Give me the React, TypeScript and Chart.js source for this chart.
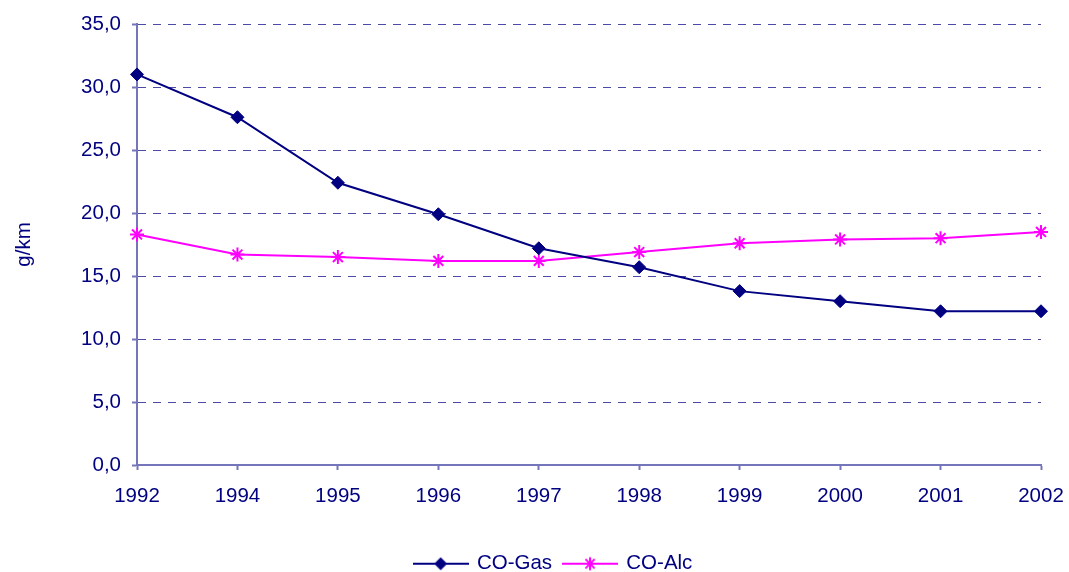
import React, { useEffect, useRef } from "react";
import { Chart, registerables } from "chart.js";

Chart.register(...registerables);

const years = ["1992", "1994", "1995", "1996", "1997", "1998", "1999", "2000", "2001", "2002"];
const coGas = [31.0, 27.6, 22.4, 19.9, 17.2, 15.7, 13.8, 13.0, 12.2, 12.2];
const coAlc = [18.3, 16.7, 16.5, 16.2, 16.2, 16.9, 17.6, 17.9, 18.0, 18.5];
const yTicks = [0, 5, 10, 15, 20, 25, 30, 35];

const NAVY = "#000080";
const MAGENTA = "#FF00FF";
const AXIS = "#7575bb";
const GRID = "#4b4ba5";
const FONT = "'Liberation Sans', Arial, sans-serif";

function makeLegendIcon(color: string, kind: "diamond" | "star"): HTMLCanvasElement {
  const c = document.createElement("canvas");
  c.width = 56;
  c.height = 16;
  const ctx = c.getContext("2d")!;
  ctx.strokeStyle = color;
  ctx.fillStyle = color;
  ctx.lineWidth = 2;
  ctx.beginPath();
  ctx.moveTo(0, 8);
  ctx.lineTo(56, 8);
  ctx.stroke();
  const cx = 28, cy = 8;
  if (kind === "diamond") {
    ctx.beginPath();
    ctx.moveTo(cx, cy - 6.5);
    ctx.lineTo(cx + 6.5, cy);
    ctx.lineTo(cx, cy + 6.5);
    ctx.lineTo(cx - 6.5, cy);
    ctx.closePath();
    ctx.fill();
  } else {
    ctx.lineWidth = 2;
    const r = 6.5;
    ctx.beginPath();
    ctx.moveTo(cx, cy - r);
    ctx.lineTo(cx, cy + r);
    const d = r * Math.SQRT1_2;
    ctx.moveTo(cx - d, cy - d);
    ctx.lineTo(cx + d, cy + d);
    ctx.moveTo(cx - d, cy + d);
    ctx.lineTo(cx + d, cy - d);
    ctx.stroke();
  }
  return c;
}

export default function App() {
  const ref = useRef<HTMLCanvasElement | null>(null);

  useEffect(() => {
    if (!ref.current) return;
    const icons = [makeLegendIcon(NAVY, "diamond"), makeLegendIcon(MAGENTA, "star")];
    const chart = new Chart(ref.current, {
      type: "line",
      data: {
        labels: years,
        datasets: [
          {
            label: "CO-Gas",
            data: coGas,
            borderColor: NAVY,
            backgroundColor: NAVY,
            borderWidth: 2,
            pointStyle: "rectRot",
            pointRadius: 6.5,
            pointBorderWidth: 1,
            pointBackgroundColor: NAVY,
            pointBorderColor: NAVY,
            tension: 0,
          },
          {
            label: "CO-Alc",
            data: coAlc,
            borderColor: MAGENTA,
            backgroundColor: MAGENTA,
            borderWidth: 2,
            pointStyle: "star",
            pointRadius: 7,
            pointBorderWidth: 2,
            pointBorderColor: MAGENTA,
            tension: 0,
          },
        ],
      },
      options: {
        animation: false,
        responsive: false,
        layout: { padding: { top: 24, right: 28, left: 66, bottom: 2 } },
        plugins: {
          tooltip: { enabled: false },
          legend: {
            position: "bottom",
            labels: {
              usePointStyle: true,
              pointStyleWidth: 52,
              padding: 12,
              color: NAVY,
              font: { family: FONT, size: 20.5 },
              generateLabels: (ch: any) =>
                ch.data.datasets.map((ds: any, i: number) => ({
                  text: ds.label,
                  pointStyle: icons[i],
                  fillStyle: ds.borderColor,
                  strokeStyle: ds.borderColor,
                  lineWidth: 0,
                  hidden: false,
                  datasetIndex: i,
                  fontColor: NAVY,
                })),
            },
          },
        },
        scales: {
          x: {
            offset: false,
            afterFit: (s: any) => {
              s.height = 76.5;
              s.paddingLeft = 0;
              s.paddingRight = 0;
            },
            grid: {
              drawOnChartArea: false,
              drawTicks: true,
              tickLength: 5,
              tickColor: AXIS,
              tickWidth: 2,
            },
            border: { color: AXIS, width: 2 },
            ticks: {
              color: NAVY,
              font: { family: FONT, size: 20.5 },
              padding: 14,
              maxRotation: 0,
              autoSkip: false,
            },
          },
          y: {
            min: 0,
            max: 35,
            afterFit: (s: any) => {
              s.width = 71;
            },
            afterBuildTicks: (s: any) => {
              s.ticks = yTicks.map((v) => ({ value: v }));
            },
            grid: {
              color: GRID,
              lineWidth: 1,
              tickLength: 5,
              tickColor: AXIS,
              tickWidth: 2,
            },
            border: { color: AXIS, width: 2, dash: [8, 7] },
            ticks: {
              color: NAVY,
              font: { family: FONT, size: 20.5 },
              padding: 11,
              callback: (v: any) => Number(v).toFixed(1).replace(".", ","),
            },
            title: {
              display: true,
              text: "g/km",
              color: NAVY,
              font: { family: FONT, size: 20.5 },
              padding: { top: -54, bottom: 0 },
            },
          },
        },
      },
    });
    return () => chart.destroy();
  }, []);

  return (
    <div style={{ position: "fixed", left: 0, top: 0, width: 1069, height: 572, overflow: "hidden", background: "#fff" }}>
      <canvas ref={ref} width={1069} height={586} style={{ display: "block" }} />
    </div>
  );
}
